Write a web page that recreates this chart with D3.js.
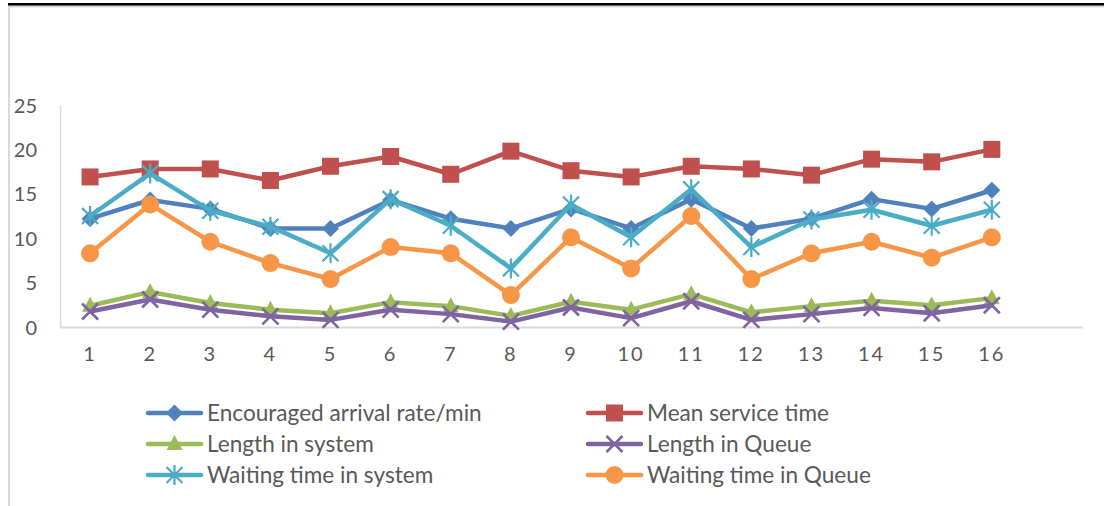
<!DOCTYPE html>
<html>
<head>
<meta charset="utf-8">
<script src="https://cdn.jsdelivr.net/npm/d3@7"></script>
<style>
  html, body { margin: 0; padding: 0; background: #fff; }
  svg { display: block; }
  text { font-family: Lato, "Open Sans", sans-serif; fill: #595959; }
</style>
</head>
<body>
<svg id="chart" width="1104" height="506"></svg>
<script>
// Scenario number along the x axis
const categories = [1, 2, 3, 4, 5, 6, 7, 8, 9, 10, 11, 12, 13, 14, 15, 16];

// Series values per scenario
const arrivalRate     = [12.2, 14.3, 13.3, 11.1, 11.1, 14.3, 12.2, 11.1, 13.3, 11.1, 14.4, 11.1, 12.2, 14.4, 13.3, 15.4];
const meanServiceTime = [16.9, 17.8, 17.8, 16.5, 18.1, 19.2, 17.2, 19.8, 17.6, 16.9, 18.1, 17.8, 17.1, 18.9, 18.6, 20.0];
const lengthInSystem  = [2.4, 3.95, 2.7, 1.95, 1.55, 2.8, 2.35, 1.25, 2.85, 1.95, 3.7, 1.65, 2.35, 2.95, 2.45, 3.25];
const lengthInQueue   = [1.75, 3.1, 1.95, 1.2, 0.8, 1.95, 1.45, 0.6, 2.2, 1.0, 2.9, 0.8, 1.45, 2.15, 1.55, 2.45];
const waitInSystem    = [12.5, 17.3, 13.1, 11.3, 8.3, 14.4, 11.4, 6.6, 13.8, 10.1, 15.5, 9.0, 12.1, 13.2, 11.4, 13.2];
const waitInQueue     = [8.3, 13.8, 9.6, 7.2, 5.4, 9.0, 8.3, 3.6, 10.1, 6.6, 12.5, 5.4, 8.3, 9.6, 7.8, 10.1];

const yTicks = [0, 5, 10, 15, 20, 25];

const series = [
  { name: "Encouraged arrival rate/min", values: arrivalRate,     color: "#4F81BD", marker: "diamond" },
  { name: "Mean service time",           values: meanServiceTime, color: "#C0504D", marker: "square" },
  { name: "Length in system",            values: lengthInSystem,  color: "#9BBB59", marker: "triangle" },
  { name: "Length in Queue",             values: lengthInQueue,   color: "#8064A2", marker: "x" },
  { name: "Waiting time in system",      values: waitInSystem,    color: "#4BACC6", marker: "star" },
  { name: "Waiting time in Queue",       values: waitInQueue,     color: "#F79646", marker: "circle" }
];

const svg = d3.select("#chart");

// Frame: heavy rule along the top and the chart's light border
svg.append("rect").attr("x", 8).attr("y", 3).attr("width", 1096).attr("height", 2.6).attr("fill", "#000");
svg.append("line").attr("x1", 8).attr("x2", 1104).attr("y1", 6.8).attr("y2", 6.8)
  .attr("stroke", "#d9d9d9").attr("stroke-width", 1.5);
svg.append("line").attr("x1", 9).attr("x2", 9).attr("y1", 6).attr("y2", 506)
  .attr("stroke", "#d9d9d9").attr("stroke-width", 2);

// The category axis leaves one empty slot after the last scenario
const slots = categories.map(String).concat([""]);
const x = d3.scaleBand().domain(slots).range([60, 1082]).padding(0);
const xc = c => x(String(c)) + x.bandwidth() / 2;
const y = d3.scaleLinear().domain([0, 25]).range([327, 105]);

// Axes
const yAxis = svg.append("g").attr("transform", "translate(60,0)")
  .call(d3.axisLeft(y).tickValues(yTicks).tickSize(0).tickSizeOuter(0).tickPadding(23));
yAxis.select(".domain").attr("stroke", "#d9d9d9").attr("stroke-width", 1.5);
yAxis.selectAll("text").attr("font-size", 20).attr("dy", "0.35em")
  .style("font-family", "Lato, sans-serif").attr("fill", "#595959");

const xAxis = svg.append("g").attr("transform", "translate(0,327)")
  .call(d3.axisBottom(x).tickSize(0).tickSizeOuter(0).tickPadding(0));
xAxis.select(".domain").attr("stroke", "#d9d9d9").attr("stroke-width", 2);
xAxis.selectAll("text").attr("font-size", 20).attr("y", 27).attr("dy", "0.35em")
  .attr("letter-spacing", 2)
  .style("font-family", "Lato, sans-serif").attr("fill", "#595959");

// Marker drawing
function drawMarker(sel, type, color) {
  if (type === "diamond") {
    sel.append("path").attr("d", "M0,-8.5L8.5,0L0,8.5L-8.5,0Z").attr("fill", color);
  } else if (type === "square") {
    sel.append("rect").attr("x", -8.5).attr("y", -8.5).attr("width", 17).attr("height", 17).attr("fill", color);
  } else if (type === "triangle") {
    sel.append("path").attr("d", "M0,-9L8,6L-8,6Z").attr("fill", color);
  } else if (type === "x") {
    sel.append("path").attr("d", "M-8,-8L8,8M-8,8L8,-8").attr("stroke", color).attr("stroke-width", 2.6).attr("fill", "none");
  } else if (type === "star") {
    sel.append("path").attr("d", "M-8,-8L8,8M-8,8L8,-8M0,-10L0,10").attr("stroke", color).attr("stroke-width", 2.2).attr("fill", "none");
  } else if (type === "circle") {
    sel.append("circle").attr("r", 9).attr("fill", color);
  }
}

const line = d3.line().x(d => xc(d.c)).y(d => y(d.v));

series.forEach(s => {
  const pts = categories.map((c, i) => ({ c, v: s.values[i] }));
  const g = svg.append("g");
  g.append("path").datum(pts).attr("d", line)
    .attr("fill", "none").attr("stroke", s.color).attr("stroke-width", 4.5)
    .attr("stroke-linejoin", "round").attr("stroke-linecap", "round");
  g.selectAll("g.m").data(pts).join("g").attr("class", "m")
    .attr("transform", d => `translate(${xc(d.c)},${y(d.v)})`)
    .each(function () { drawMarker(d3.select(this), s.marker, s.color); });
});

// Legend: two columns, three rows
const legendCols = [148, 588];
const legendRows = [413, 444, 475];
series.forEach((s, i) => {
  const lx = legendCols[i % 2], ly = legendRows[Math.floor(i / 2)];
  const g = svg.append("g").attr("transform", `translate(${lx},${ly})`);
  g.append("line").attr("x1", 0).attr("x2", 53).attr("y1", 0).attr("y2", 0)
    .attr("stroke", s.color).attr("stroke-width", 4.5).attr("stroke-linecap", "round");
  drawMarker(g.append("g").attr("transform", "translate(26.5,0)"), s.marker, s.color);
  g.append("text").attr("x", 59).attr("y", 0).attr("dy", "0.36em")
    .attr("font-size", 22.6).text(s.name);
});
</script>
</body>
</html>
